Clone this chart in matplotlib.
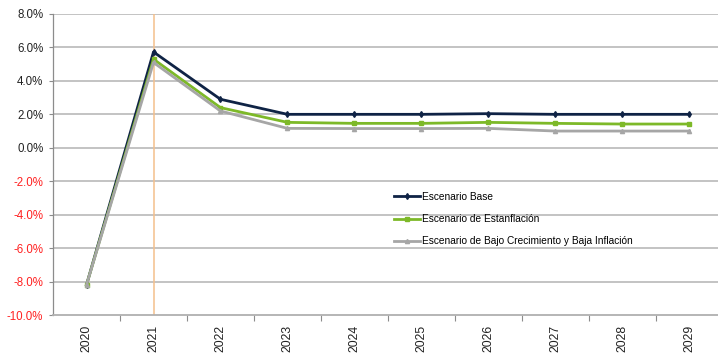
import matplotlib
matplotlib.use("Agg")
import matplotlib.pyplot as plt
from matplotlib.ticker import FixedLocator, FuncFormatter

plt.rcParams['font.family'] = ['Liberation Sans', 'DejaVu Sans']

years = ["2020", "2021", "2022", "2023", "2024", "2025", "2026", "2027", "2028", "2029"]
base = [-8.2, 5.73, 2.9, 2.0, 2.0, 2.0, 2.04, 2.0, 2.0, 2.0]
estanflacion = [-8.2, 5.3, 2.4, 1.52, 1.46, 1.46, 1.52, 1.46, 1.42, 1.42]
bajo_crecimiento = [-8.2, 5.1, 2.2, 1.16, 1.15, 1.15, 1.16, 1.0, 1.0, 1.0]
series_names = ["Escenario Base", "Escenario de Estanflación",
                "Escenario de Bajo Crecimiento y Baja Inflación"]
y_ticks = [-10, -8, -6, -4, -2, 0, 2, 4, 6, 8]

fig = plt.figure(figsize=(7.18, 3.54), dpi=100)
ax = fig.add_axes([53 / 718, 1 - 315 / 354, 670 / 718, 301 / 354])

x = list(range(len(years)))

ax.set_ylim(-10, 8)
ax.set_xlim(-0.5, len(years) - 0.5)

# horizontal gridlines
for v in y_ticks[1:]:
    ax.axhline(v, color="#BEBEBE", lw=1.3, zorder=1)

# marker line at 2021
ax.axvline(x[1], color="#F4C08C", lw=1.1, zorder=2)

ax.plot(x, base, color="#0F2345", lw=2.0, marker="d", ms=3,
        label=series_names[0], zorder=3)
ax.plot(x, estanflacion, color="#7DB928", lw=2.0, marker="s", ms=3.5,
        label=series_names[1], zorder=4)
ax.plot(x, bajo_crecimiento, color="#A6A6A6", lw=2.0, marker="^", ms=3,
        label=series_names[2], zorder=5)

# y axis
ax.yaxis.set_major_locator(FixedLocator(y_ticks))
ax.yaxis.set_major_formatter(FuncFormatter(lambda v, p: f"{v:.1f}%"))
ax.tick_params(axis="y", length=3, width=0.8, color="#8C8C8C",
               labelsize=8.3, pad=4)
for lbl, v in zip(ax.get_yticklabels(), y_ticks):
    lbl.set_color("#FF2020" if v < 0 else "#222222")

# x axis: labels at centres, tick marks at category boundaries
ax.set_xticks(x)
ax.set_xticklabels(years, rotation=90, fontsize=8.8, color="#222222")
ax.tick_params(axis="x", which="major", length=0, pad=7)
ax.set_xticks([i + 0.5 for i in x[:-1]], minor=True)
ax.tick_params(axis="x", which="minor", length=4, width=0.8, color="#8C8C8C")

for s in ["top", "right"]:
    ax.spines[s].set_visible(False)
ax.spines["left"].set_color("#8C8C8C")
ax.spines["bottom"].set_color("#B0B0B0")
ax.spines["left"].set_linewidth(0.9)
ax.spines["bottom"].set_linewidth(1.3)

fig.legend(*ax.get_legend_handles_labels(), loc="upper left",
           bbox_to_anchor=(394 / 718, 1 - 192 / 354), frameon=False,
           prop={"size": 7.3}, handlelength=2.6, handletextpad=0.2,
           labelspacing=1.2, borderaxespad=0, borderpad=0)

fig.savefig("out.png", dpi=100)
